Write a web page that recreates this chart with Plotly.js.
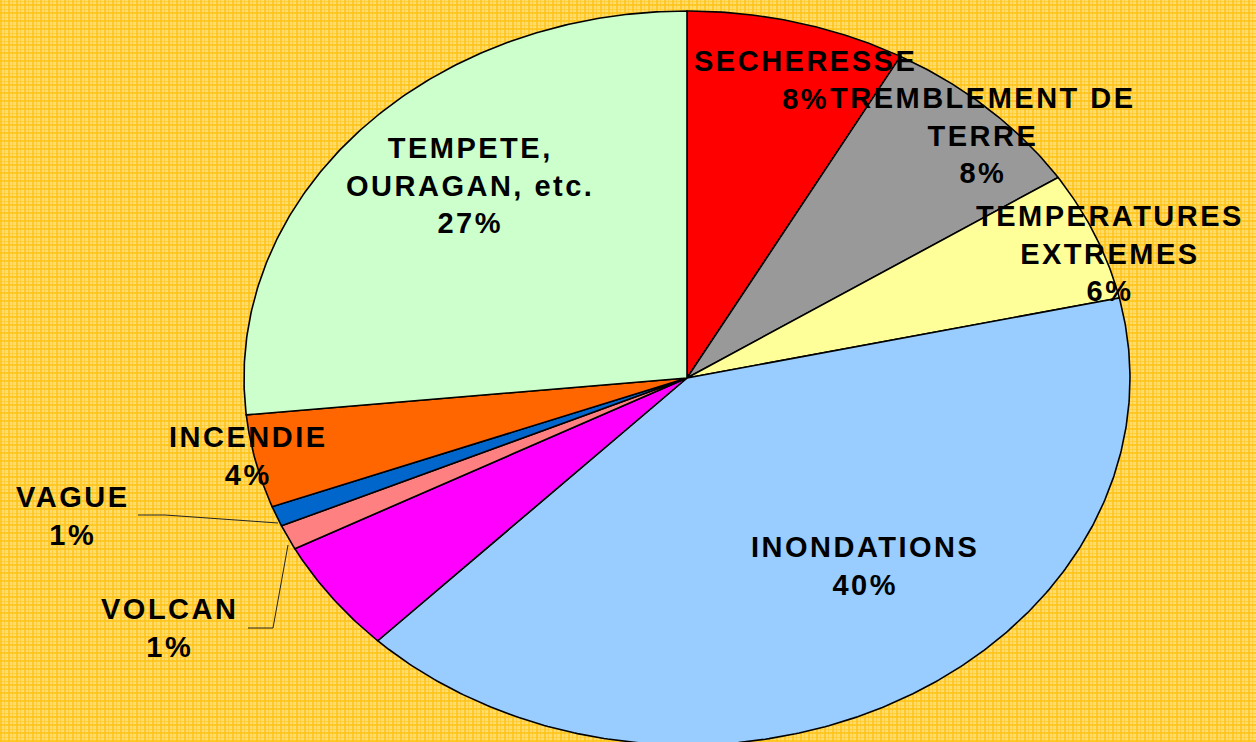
<!DOCTYPE html>
<html>
<head>
<meta charset="utf-8">
<script src="https://cdn.plot.ly/plotly-3.0.1.min.js"></script>
<style>
html,body{margin:0;padding:0;overflow:hidden;}
body{
  width:1256px;height:742px;
  background-color:#FFDC70;
  background-image:
    repeating-linear-gradient(0deg, rgba(255,194,20,0.75) 0px, rgba(255,194,20,0.75) 2px, rgba(0,0,0,0) 2px, rgba(0,0,0,0) 4px, rgba(255,194,20,0.5) 4px, rgba(255,194,20,0.5) 5px, rgba(0,0,0,0) 5px, rgba(0,0,0,0) 8px),
    repeating-linear-gradient(90deg, rgba(255,194,20,0.75) 0px, rgba(255,194,20,0.75) 2px, rgba(0,0,0,0) 2px, rgba(0,0,0,0) 4px, rgba(255,194,20,0.5) 4px, rgba(255,194,20,0.5) 5px, rgba(0,0,0,0) 5px, rgba(0,0,0,0) 8px);
}
#chart{width:1256px;height:742px;}
.annotation-text{letter-spacing:2.5px;}
</style>
</head>
<body>
<div id="chart"></div>
<script>
// ---- data (clockwise from 12 o'clock) ----
const categories = ['SECHERESSE', 'TREMBLEMENT DE TERRE', 'TEMPERATURES EXTREMES', 'INONDATIONS', '', 'VOLCAN', 'VAGUE', 'INCENDIE', 'TEMPETE, OURAGAN, etc.'];
const values = [8.0, 7.8, 5.7, 40.8, 5.0, 1.1, 0.9, 4.1, 26.6];
const pctLabels = ['8%', '8%', '6%', '40%', '', '1%', '1%', '4%', '27%'];
const labelLines = [['SECHERESSE'], ['TREMBLEMENT DE', 'TERRE'], ['TEMPERATURES', 'EXTREMES'], ['INONDATIONS'], [], ['VOLCAN'], ['VAGUE'], ['INCENDIE'], ['TEMPETE,', 'OURAGAN, etc.']];
const colors = ['#FF0000', '#999999', '#FFFF99', '#99CCFF', '#FF00FF', '#FF8080', '#0066CC', '#FF6600', '#CCFFCC'];

// ---- layout geometry (pixels) ----
const W = 1256, H = 742;
const CX = 687, CY = 378, RX = 443, RY = 367;
// label block centres in pixels
const labelPos = [[805, 80], [983, 135], [1110, 253], [865, 566], null, [169, 628], [72, 516], [248, 456], [470, 185]];
// leader lines for small slices (pixels)
const leaders = [
  [[248, 628], [273, 628], [288, 545]],
  [[138, 515], [165, 515], [278, 523]]
];

const toX = px => (px - CX) / RX;
const toY = py => (CY - py) / RY;

const total = values.reduce((a, b) => a + b, 0);
const traces = [];
let cum = 0;
values.forEach((v, i) => {
  const a0 = cum / total * 2 * Math.PI;
  cum += v;
  const a1 = cum / total * 2 * Math.PI;
  const n = Math.max(2, Math.ceil((a1 - a0) / (Math.PI / 360)));
  const xs = [0], ys = [0];
  for (let k = 0; k <= n; k++) {
    const a = a0 + (a1 - a0) * k / n;
    xs.push(Math.sin(a));
    ys.push(Math.cos(a));
  }
  xs.push(0); ys.push(0);
  traces.push({
    type: 'scatter', mode: 'lines', x: xs, y: ys,
    fill: 'toself', fillcolor: colors[i],
    line: {color: '#000000', width: 1.6},
    name: categories[i], hoverinfo: 'skip', showlegend: false
  });
});

const annotations = [];
labelLines.forEach((lines, i) => {
  if (!labelPos[i]) return;
  const all = lines.concat(pctLabels[i] ? [pctLabels[i]] : []);
  annotations.push({
    x: toX(labelPos[i][0]), y: toY(labelPos[i][1]), xref: 'x', yref: 'y',
    text: all.map(s => '<b>' + s + '</b>').join('<br>'),
    showarrow: false, xanchor: 'center', yanchor: 'middle', align: 'center',
    font: {family: 'Liberation Sans, Arial, sans-serif', size: 29, color: '#000000'}
  });
});

const shapes = leaders.map(pts => ({
  type: 'path', xref: 'x', yref: 'y',
  path: pts.map((p, k) => (k ? 'L' : 'M') + toX(p[0]) + ',' + toY(p[1])).join(' '),
  line: {color: '#222222', width: 1}
}));

const layout = {
  width: W, height: H,
  margin: {l: 0, r: 0, t: 0, b: 0, pad: 0},
  paper_bgcolor: 'rgba(0,0,0,0)', plot_bgcolor: 'rgba(0,0,0,0)',
  xaxis: {range: [toX(0), toX(W)], visible: false, showgrid: false, zeroline: false, fixedrange: true},
  yaxis: {range: [toY(H), toY(0)], visible: false, showgrid: false, zeroline: false, fixedrange: true},
  showlegend: false, hovermode: false,
  annotations: annotations, shapes: shapes
};

Plotly.newPlot('chart', traces, layout, {displayModeBar: false, staticPlot: true});
</script>
</body>
</html>
